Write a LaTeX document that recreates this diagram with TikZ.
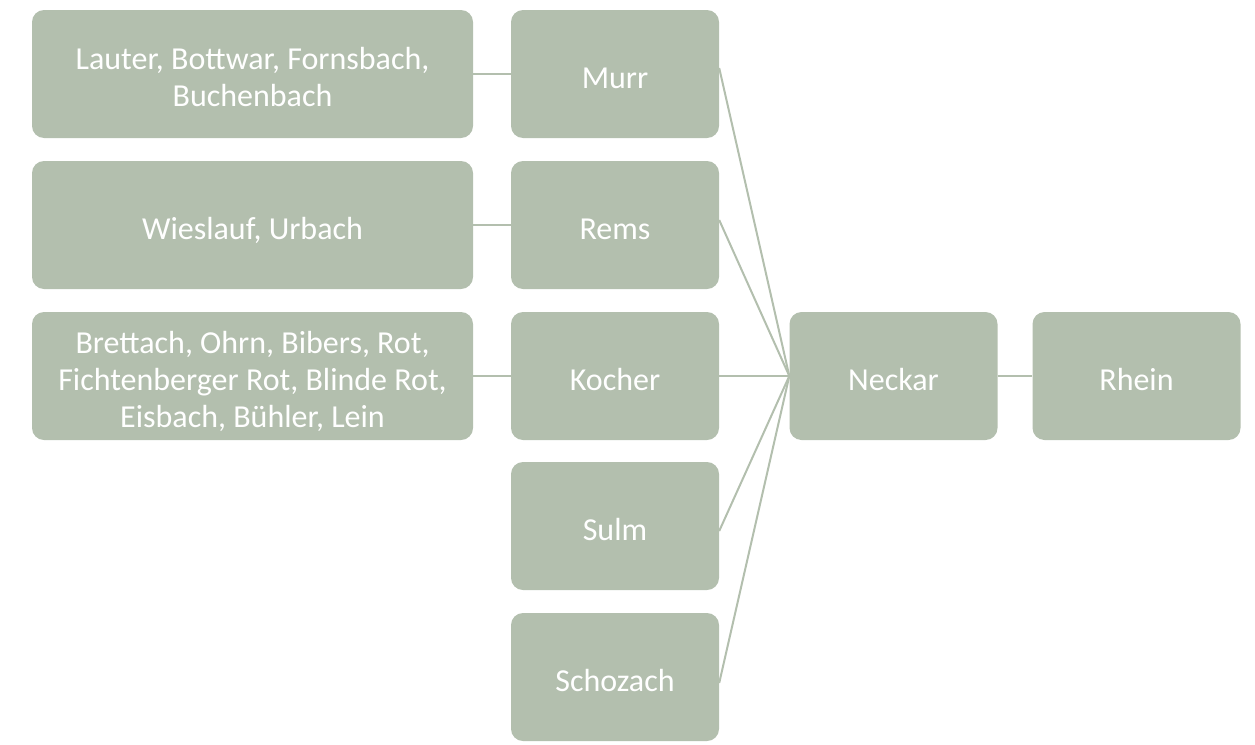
\documentclass[tikz,border=0pt]{standalone}
\usepackage{fontspec}
\setmainfont{Carlito}
\definecolor{sage}{HTML}{B3BFAE}
\newcommand\boxlbl[1]{\raisebox{-13pt}[0pt][0pt]{\begin{tabular}{@{}c@{}}#1\end{tabular}}}
\begin{document}
\begin{tikzpicture}[x=1pt,y=-1pt,
  box/.style={fill=sage, draw=none, rounded corners=12pt, text=white, inner sep=0pt,
    font=\fontsize{32}{37}\selectfont, minimum height=128pt},
  leftbox/.style={box, minimum width=441pt},
  midbox/.style={box, minimum width=208pt},
  link/.style={draw=sage, line width=2pt}]
\useasboundingbox (0,0) rectangle (1255,744);
\node[leftbox] (l1) at (252.5,74) {\boxlbl{Lauter, Bottwar, Fornsbach,\\Buchenbach}};
\node[leftbox] (l2) at (252.5,225) {\boxlbl{Wieslauf, Urbach}};
\node[leftbox] (l3) at (252.5,376) {\boxlbl{Brettach, Ohrn, Bibers, Rot,\\Fichtenberger Rot, Blinde Rot,\\Eisbach, Bühler, Lein}};
\node[midbox] (murr) at (615,74) {\boxlbl{Murr}};
\node[midbox] (rems) at (615,225) {\boxlbl{Rems}};
\node[midbox] (kocher) at (615,376) {\boxlbl{Kocher}};
\node[midbox] (sulm) at (615,526) {\boxlbl{Sulm}};
\node[midbox] (schozach) at (615,677) {\boxlbl{Schozach}};
\node[midbox] (neckar) at (893.5,376) {\boxlbl{Neckar}};
\node[midbox] (rhein) at (1136.5,376) {\boxlbl{Rhein}};
\draw[link] (l1.east) -- (murr.west);
\draw[link] (l2.east) -- (rems.west);
\draw[link] (l3.east) -- (kocher.west);
\draw[link] ([yshift=6pt]murr.east) -- (neckar.west);
\draw[link] ([yshift=5pt]rems.east) -- (neckar.west);
\draw[link] (kocher.east) -- (neckar.west);
\draw[link] ([yshift=-5pt]sulm.east) -- (neckar.west);
\draw[link] ([yshift=-6pt]schozach.east) -- (neckar.west);
\draw[link] (neckar.east) -- (rhein.west);
\end{tikzpicture}
\end{document}
